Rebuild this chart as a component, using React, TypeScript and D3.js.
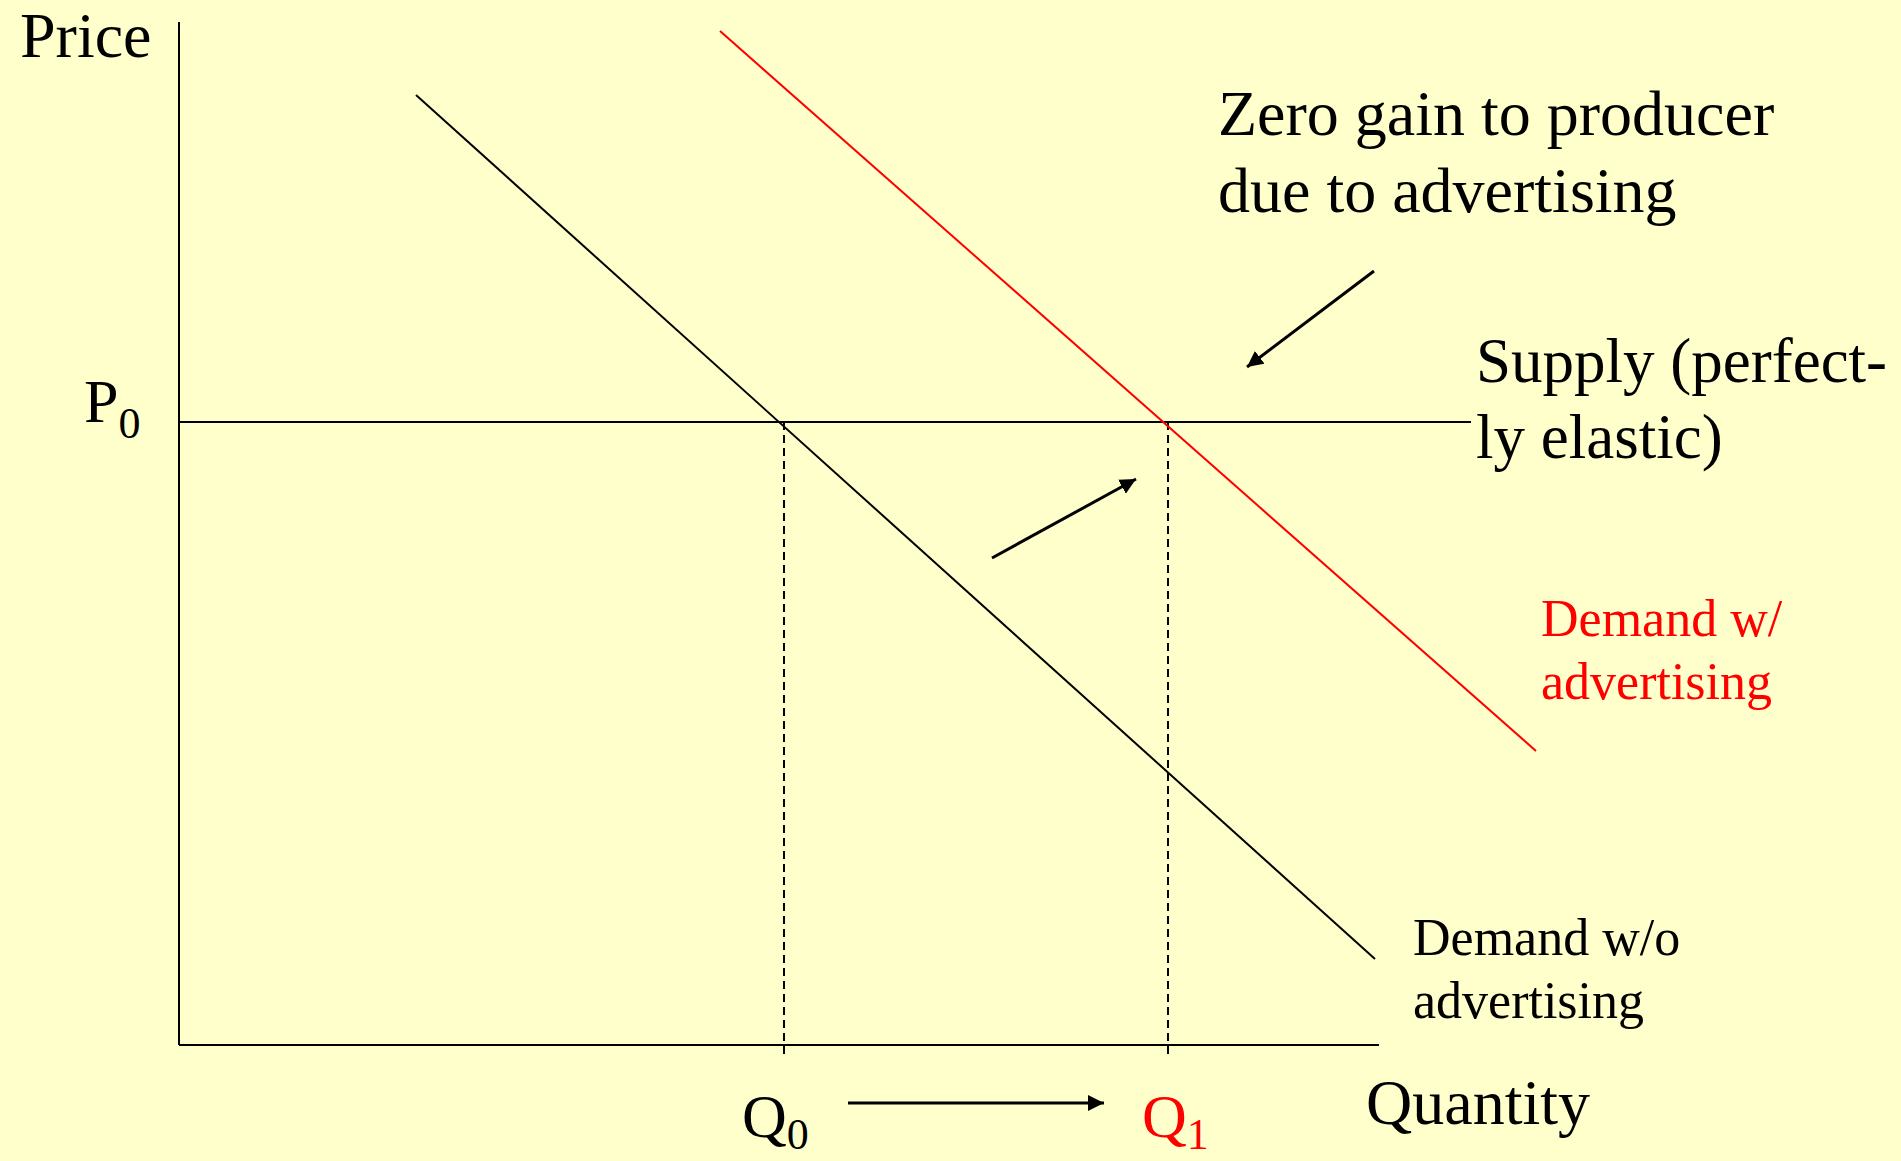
import React from 'react';
import * as d3 from 'd3';

// chart values, in price / quantity units
const priceP0 = 6.23;
const quantityLevels = [6.05, 9.89]; // Q0, Q1
const demandWithout = [
  { q: 2.37, p: 9.5 },
  { q: 11.96, p: 0.86 },
];
const demandWith = [
  { q: 5.41, p: 10.14 },
  { q: 13.57, p: 2.94 },
];
const supplyLine = [
  { q: 0, p: priceP0 },
  { q: 12.92, p: priceP0 },
];
const arrowLines = [
  { from: [11.95, 7.74], to: [10.68, 6.78] },
  { from: [8.13, 4.87], to: [9.57, 5.66] },
  { from: [6.69, -0.58], to: [9.25, -0.58] },
];

const width = 1901;
const height = 1161;
const font = '"Liberation Serif", "Times New Roman", serif';

const App = () => {
  const x = d3.scaleLinear().domain([0, 12]).range([179, 1379]);
  const y = d3.scaleLinear().domain([0, 10.23]).range([1045, 22]);

  const line = d3
    .line<{ q: number; p: number }>()
    .x((d) => x(d.q))
    .y((d) => y(d.p));

  return (
    <svg
      width={width}
      height={height}
      style={{ position: 'absolute', left: 0, top: 0, background: '#FFFFCC' }}
    >
      <defs>
        <marker
          id="head"
          markerUnits="userSpaceOnUse"
          viewBox="0 0 16 16"
          refX="16"
          refY="8"
          markerWidth="16"
          markerHeight="16"
          orient="auto"
        >
          <path d="M0,0 L16,8 L0,16 Z" fill="#000" />
        </marker>
      </defs>

      {/* axes */}
      <line x1={x(0)} x2={x(0)} y1={y(0)} y2={y(10.23)} stroke="#000" strokeWidth={2} />
      <line x1={x(0)} x2={x(12)} y1={y(0)} y2={y(0)} stroke="#000" strokeWidth={2} />

      {/* supply */}
      <path d={line(supplyLine) ?? ''} stroke="#000" strokeWidth={2} fill="none" />

      {/* dashed drop lines */}
      {quantityLevels.map((q, i) => (
        <line
          key={i}
          x1={x(q)}
          x2={x(q)}
          y1={y(priceP0)}
          y2={y(-0.09)}
          stroke="#000"
          strokeWidth={2}
          strokeDasharray="8,5"
        />
      ))}

      {/* demand curves */}
      <path d={line(demandWithout) ?? ''} stroke="#000" strokeWidth={2} fill="none" />
      <path d={line(demandWith) ?? ''} stroke="#FF0000" strokeWidth={2} fill="none" />

      {/* arrows */}
      {arrowLines.map((a, i) => (
        <line
          key={i}
          x1={x(a.from[0])}
          y1={y(a.from[1])}
          x2={x(a.to[0])}
          y2={y(a.to[1])}
          stroke="#000"
          strokeWidth={3}
          markerEnd="url(#head)"
        />
      ))}

      <g fontFamily={font} fill="#000">
        <text x={20} y={57} fontSize={64}>Price</text>
        <text x={84} y={422} fontSize={62}>
          P<tspan fontSize={44} dy={16}>0</tspan>
        </text>
        <text x={742} y={1137} fontSize={62}>
          Q<tspan fontSize={44} dy={12}>0</tspan>
        </text>
        <text x={1142} y={1137} fontSize={62} fill="#FF0000">
          Q<tspan fontSize={44} dy={12}>1</tspan>
        </text>
        <text x={1366} y={1124} fontSize={64}>Quantity</text>

        <text x={1218} y={135} fontSize={64}>Zero gain to producer</text>
        <text x={1218} y={212} fontSize={64}>due to advertising</text>

        <text x={1476} y={382} fontSize={63}>Supply (perfect-</text>
        <text x={1476} y={458} fontSize={63}>ly elastic)</text>

        <text x={1541} y={636} fontSize={52} fill="#FF0000">Demand w/</text>
        <text x={1541} y={699} fontSize={52} fill="#FF0000">advertising</text>

        <text x={1413} y={955} fontSize={52}>Demand w/o</text>
        <text x={1413} y={1018} fontSize={52}>advertising</text>
      </g>
    </svg>
  );
};

export default App;
